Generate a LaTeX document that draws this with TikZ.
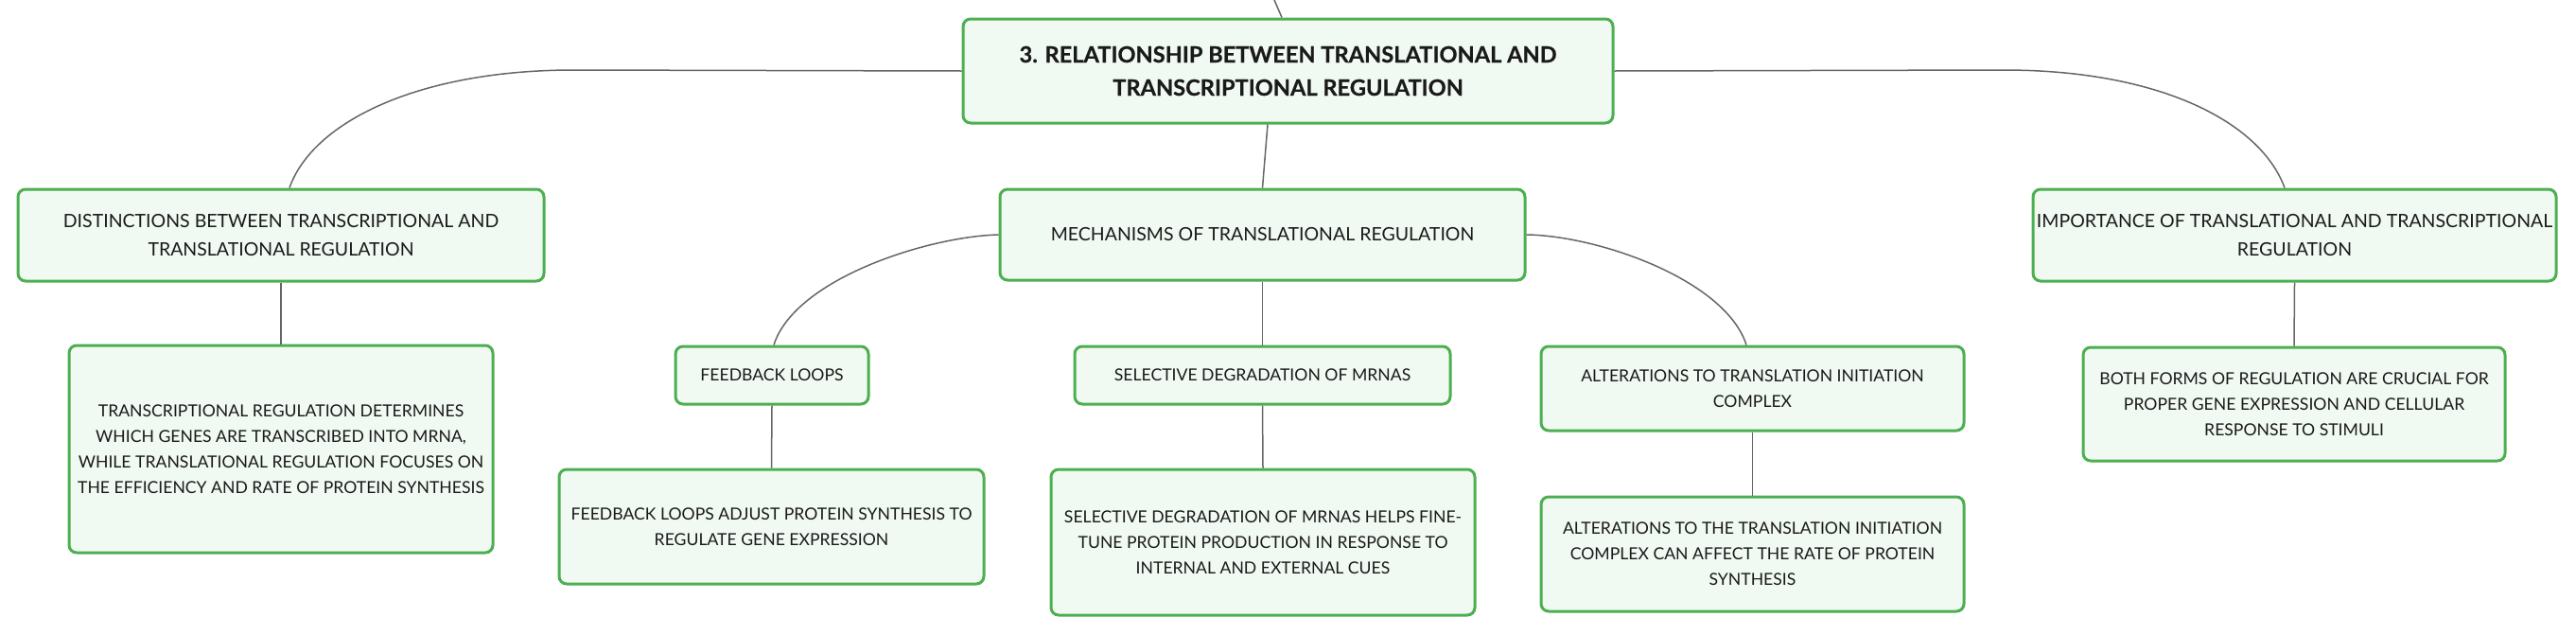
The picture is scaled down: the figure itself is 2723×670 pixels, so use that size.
\documentclass[tikz,border=0pt]{standalone}
\usepackage{fontspec}
\setmainfont{Lato}
\newfontfamily\heavyfont{Lato}[FakeBold=0.6]
\definecolor{boxgreen}{HTML}{4CAF50}
\definecolor{boxfill}{HTML}{F1F9F3}
\definecolor{linegray}{HTML}{666666}
\definecolor{textcol}{HTML}{1A1A1A}
\tikzset{
  nbox/.style={draw=boxgreen, line width=3pt, fill=boxfill, rounded corners=8pt, inner sep=0pt, align=center, text=textcol},
  lvlzero/.style={nbox, font=\fontsize{23.6}{35}\selectfont\heavyfont\bfseries},
  lvlone/.style={nbox, font=\fontsize{19.5}{30}\selectfont},
  lvltwo/.style={nbox, font=\fontsize{17.6}{27}\selectfont},
  conn/.style={draw=linegray, line width=1.5pt}
}
\begin{document}
\begin{tikzpicture}[x=1pt,y=-1pt]
\useasboundingbox (0,0) rectangle (2723,670);
% nodes
\node[lvlzero, minimum width=687pt, minimum height=110pt] (root) at (1361.5,75) {3. RELATIONSHIP BETWEEN TRANSLATIONAL AND\\TRANSCRIPTIONAL REGULATION};
\node[lvlone, minimum width=556pt, minimum height=97pt] (dist) at (297,248.5) {DISTINCTIONS BETWEEN TRANSCRIPTIONAL AND\\TRANSLATIONAL REGULATION};
\node[lvlone, minimum width=555pt, minimum height=96pt] (mech) at (1334.5,248) {MECHANISMS OF TRANSLATIONAL REGULATION};
\node[lvlone, minimum width=553pt, minimum height=97pt] (imp) at (2425.5,248.5) {IMPORTANCE OF TRANSLATIONAL AND TRANSCRIPTIONAL\\REGULATION};
\node[lvltwo, minimum width=448pt, minimum height=219pt] (distc) at (297,474.5) {TRANSCRIPTIONAL REGULATION DETERMINES\\WHICH GENES ARE TRANSCRIBED INTO MRNA,\\WHILE TRANSLATIONAL REGULATION FOCUSES ON\\THE EFFICIENCY AND RATE OF PROTEIN SYNTHESIS};
\node[lvltwo, minimum width=204pt, minimum height=61pt] (fb) at (816,396.5) {FEEDBACK LOOPS};
\node[lvltwo, minimum width=397pt, minimum height=61pt] (sel) at (1334.5,396.5) {SELECTIVE DEGRADATION OF MRNAS};
\node[lvltwo, minimum width=447pt, minimum height=89pt] (alt) at (1852.5,410.5) {ALTERATIONS TO TRANSLATION INITIATION\\COMPLEX};
\node[lvltwo, minimum width=449pt, minimum height=121pt] (fbc) at (815.5,556.5) {FEEDBACK LOOPS ADJUST PROTEIN SYNTHESIS TO\\REGULATE GENE EXPRESSION};
\node[lvltwo, minimum width=448pt, minimum height=154pt] (selc) at (1335,573) {SELECTIVE DEGRADATION OF MRNAS HELPS FINE-\\TUNE PROTEIN PRODUCTION IN RESPONSE TO\\INTERNAL AND EXTERNAL CUES};
\node[lvltwo, minimum width=447pt, minimum height=121pt] (altc) at (1852.5,585.5) {ALTERATIONS TO THE TRANSLATION INITIATION\\COMPLEX CAN AFFECT THE RATE OF PROTEIN\\SYNTHESIS};
\node[lvltwo, minimum width=446pt, minimum height=120pt] (impc) at (2425,427) {BOTH FORMS OF REGULATION ARE CRUCIAL FOR\\PROPER GENE EXPRESSION AND CELLULAR\\RESPONSE TO STIMULI};
% helper coordinates
\coordinate (topin) at (1347,0);
\coordinate (lbend) at (607,74);
\coordinate (rbend) at (2118,74);
% connectors
\draw[conn] (topin) -- ([xshift=-6.5pt]root.north);
\draw[conn] ([xshift=-21.5pt]root.south) -- (mech.north);
\draw[conn] (root.west) -- (lbend) .. controls (440,74) and (330,130) .. ([xshift=9pt]dist.north);
\draw[conn] (root.east) -- (rbend) .. controls (2285,74) and (2390,130) .. ([xshift=-10.5pt]imp.north);
\draw[conn] (mech.west) .. controls (980,250) and (840,295) .. ([xshift=2pt]fb.north);
\draw[conn] (mech.east) .. controls (1690,249) and (1824,296) .. ([xshift=-6.5pt]alt.north);
\draw[conn] (dist.south) -- (distc.north);
\draw[conn] (fb.south) -- (fbc.north);
\draw[conn] (mech.south) -- (sel.north);
\draw[conn] (sel.south) -- (selc.north);
\draw[conn] (alt.south) -- (altc.north);
\draw[conn] (imp.south) -- (impc.north);
\end{tikzpicture}
\end{document}
